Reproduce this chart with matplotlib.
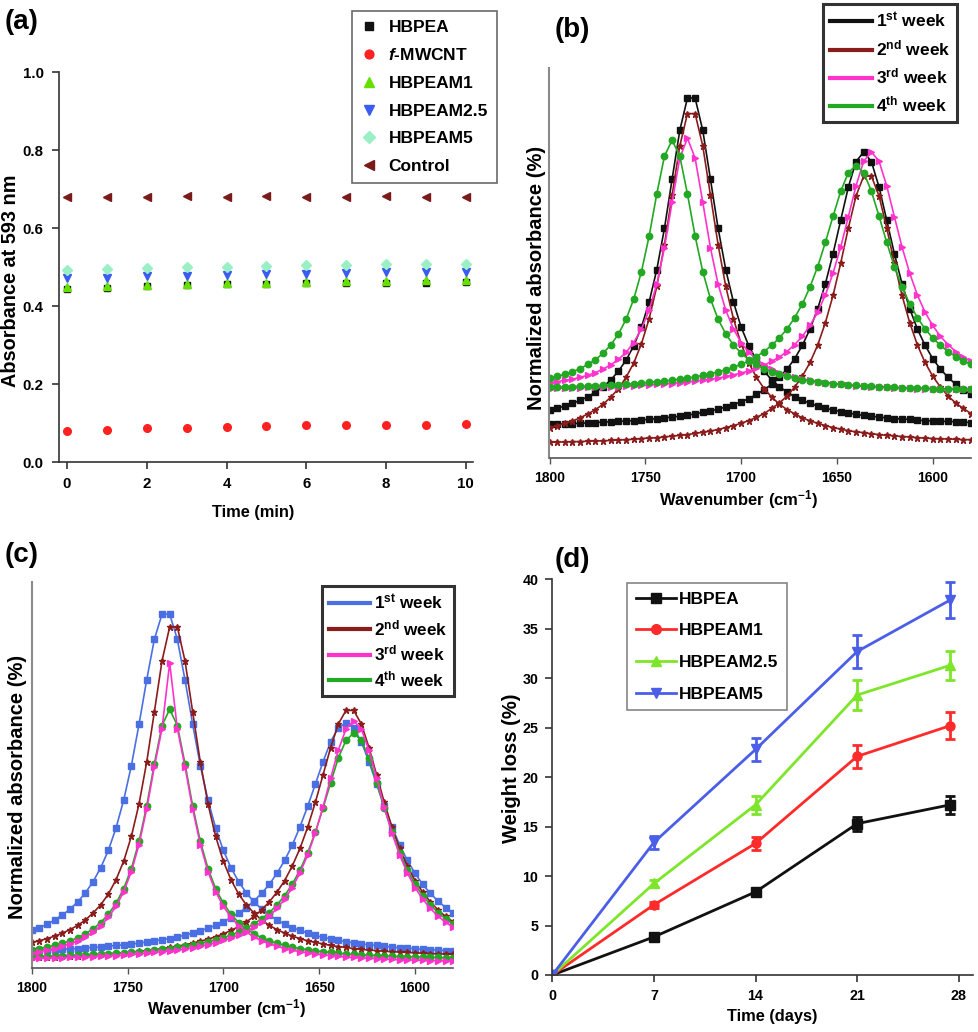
import matplotlib
matplotlib.use('Agg')
import matplotlib.pyplot as plt
import matplotlib.font_manager as fm
from matplotlib.lines import Line2D

# ---------------- data ----------------
# (a) absorbance at 593 nm vs time
time_min = [0, 1, 2, 3, 4, 5, 6, 7, 8, 9, 10]
abs_hbpea = [0.444, 0.447, 0.452, 0.453, 0.456, 0.457, 0.458, 0.459, 0.459, 0.460, 0.462]
abs_fmwcnt = [0.079, 0.081, 0.087, 0.088, 0.091, 0.092, 0.094, 0.096, 0.096, 0.096, 0.098]
abs_hbpeam1 = [0.450, 0.452, 0.455, 0.457, 0.459, 0.460, 0.462, 0.463, 0.464, 0.466, 0.467]
abs_hbpeam25 = [0.471, 0.473, 0.476, 0.477, 0.480, 0.481, 0.483, 0.484, 0.486, 0.487, 0.488]
abs_hbpeam5 = [0.492, 0.494, 0.498, 0.499, 0.501, 0.502, 0.504, 0.505, 0.507, 0.508, 0.508]
abs_control = [0.680, 0.680, 0.680, 0.681, 0.680, 0.681, 0.680, 0.680, 0.681, 0.680, 0.680]
legend_a = ['HBPEA', r'$\mathit{f}$-MWCNT', 'HBPEAM1', 'HBPEAM2.5', 'HBPEAM5', 'Control']

# (b), (c) normalized absorbance vs wavenumber
wavenumber = [1800, 1796, 1792, 1788, 1784, 1780, 1776, 1772, 1768, 1764, 1760, 1756, 1752, 1748,
              1744, 1740, 1736, 1732, 1728, 1724, 1720, 1716, 1712, 1708, 1704, 1700, 1696, 1692,
              1688, 1684, 1680, 1676, 1672, 1668, 1664, 1660, 1656, 1652, 1648, 1644, 1640, 1636,
              1632, 1628, 1624, 1620, 1616, 1612, 1608, 1604, 1600, 1596, 1592, 1588, 1584, 1580]
week_labels = [r'1$^{\mathrm{st}}$ week', r'2$^{\mathrm{nd}}$ week', r'3$^{\mathrm{rd}}$ week',
               r'4$^{\mathrm{th}}$ week']

b_w1_p1 = [12.3, 12.8, 13.3, 14.0, 14.8, 15.7, 16.9, 18.3, 20.0, 22.3, 25.1, 28.8, 33.6, 40.0, 48.3,
           58.9, 71.5, 84.0, 92.3, 92.3, 84.0, 71.5, 58.9, 48.3, 40.0, 33.6, 28.8, 25.1, 22.3, 20.0,
           18.3, 16.9, 15.7, 14.8, 14.0, 13.3, 12.8, 12.3, 11.9, 11.5, 11.2, 10.9, 10.7, 10.5, 10.3,
           10.1, 10.0, 9.9, 9.7, 9.6, 9.5, 9.4, 9.4, 9.3, 9.2, 9.1]
b_w1_p2 = [8.6, 8.7, 8.8, 8.8, 8.9, 9.0, 9.1, 9.2, 9.3, 9.4, 9.5, 9.6, 9.8, 9.9, 10.1, 10.3, 10.5,
           10.7, 11.0, 11.3, 11.7, 12.1, 12.5, 13.1, 13.7, 14.4, 15.2, 16.3, 17.5, 18.9, 20.7, 22.8,
           25.5, 28.9, 33.1, 38.3, 44.7, 52.4, 61.0, 69.5, 76.0, 78.5, 76.0, 69.5, 61.0, 52.4, 44.7,
           38.3, 33.1, 28.9, 25.5, 22.8, 20.7, 18.9, 17.5, 16.3]
b_w2_p1 = [7.8, 8.3, 8.9, 9.5, 10.3, 11.3, 12.4, 13.8, 15.6, 17.8, 20.7, 24.4, 29.3, 35.7, 44.0,
           54.7, 67.4, 80.0, 88.3, 88.3, 80.0, 67.4, 54.7, 44.0, 35.7, 29.3, 24.4, 20.7, 17.8, 15.6,
           13.8, 12.4, 11.3, 10.3, 9.5, 8.9, 8.3, 7.8, 7.4, 7.0, 6.7, 6.5, 6.2, 6.0, 5.8, 5.7, 5.5,
           5.4, 5.2, 5.1, 5.0, 4.9, 4.9, 4.8, 4.7, 4.7]
b_w2_p2 = [4.0, 4.1, 4.1, 4.2, 4.2, 4.3, 4.4, 4.4, 4.5, 4.6, 4.7, 4.8, 5.0, 5.1, 5.2, 5.4, 5.6,
           5.8, 6.0, 6.3, 6.6, 6.9, 7.3, 7.8, 8.3, 8.9, 9.6, 10.4, 11.4, 12.7, 14.1, 15.9, 18.2,
           21.0, 24.5, 29.0, 34.7, 41.7, 50.0, 59.0, 67.2, 72.3, 72.3, 67.2, 59.0, 50.0, 41.7, 34.7,
           29.0, 24.5, 21.0, 18.2, 15.9, 14.1, 12.7, 11.4]
b_w3_p1 = [19.3, 19.6, 19.9, 20.2, 20.7, 21.2, 21.9, 22.8, 23.9, 25.3, 27.1, 29.6, 33.1, 37.9, 44.6,
           53.9, 65.6, 76.9, 82.0, 76.9, 65.6, 53.9, 44.6, 37.9, 33.1, 29.6, 27.1, 25.3, 23.9, 22.8,
           21.9, 21.2, 20.7, 20.2, 19.9, 19.6, 19.3, 19.1, 18.9, 18.7, 18.5, 18.4, 18.3, 18.2, 18.1,
           18.0, 18.0, 17.9, 17.8, 17.8, 17.7, 17.7, 17.7, 17.6, 17.6, 17.6]
b_w3_p2 = [17.8, 17.9, 17.9, 18.0, 18.0, 18.1, 18.1, 18.2, 18.3, 18.3, 18.4, 18.5, 18.6, 18.7, 18.9,
           19.0, 19.1, 19.3, 19.5, 19.7, 19.9, 20.2, 20.5, 20.9, 21.3, 21.8, 22.3, 23.0, 23.8, 24.8,
           25.9, 27.3, 29.1, 31.2, 34.0, 37.4, 41.8, 47.4, 54.1, 61.9, 69.8, 76.1, 78.5, 76.1, 69.8,
           61.9, 54.1, 47.4, 41.8, 37.4, 34.0, 31.2, 29.1, 27.3, 25.9, 24.8]
b_w4_p1 = [20.5, 20.9, 21.5, 22.1, 22.9, 24.0, 25.2, 26.9, 29.0, 31.8, 35.6, 40.8, 47.8, 56.9, 67.7,
           77.4, 81.5, 77.4, 67.7, 56.9, 47.8, 40.8, 35.6, 31.8, 29.0, 26.9, 25.2, 24.0, 22.9, 22.1,
           21.5, 20.9, 20.5, 20.1, 19.8, 19.5, 19.3, 19.1, 18.9, 18.7, 18.6, 18.5, 18.4, 18.3, 18.2,
           18.1, 18.0, 18.0, 17.9, 17.9, 17.8, 17.8, 17.7, 17.7, 17.6, 17.6]
b_w4_p2 = [18.1, 18.2, 18.2, 18.3, 18.4, 18.4, 18.5, 18.6, 18.7, 18.8, 18.9, 19.1, 19.2, 19.4, 19.6,
           19.7, 20.0, 20.2, 20.5, 20.8, 21.2, 21.6, 22.1, 22.6, 23.3, 24.0, 24.9, 26.0, 27.3, 28.9,
           30.8, 33.1, 36.0, 39.5, 43.9, 49.1, 55.3, 62.0, 68.4, 73.2, 75.0, 73.2, 68.4, 62.0, 55.3,
           49.1, 43.9, 39.5, 36.0, 33.1, 30.8, 28.9, 27.3, 26.0, 24.9, 24.0]

c_w1_p1 = [9.8, 10.5, 11.4, 12.5, 13.8, 15.3, 17.2, 19.5, 22.4, 26.0, 30.5, 36.3, 43.5, 52.4, 63.1,
           74.6, 85.1, 91.6, 91.6, 85.1, 74.6, 63.1, 52.4, 43.5, 36.3, 30.5, 26.0, 22.4, 19.5, 17.2,
           15.3, 13.8, 12.5, 11.4, 10.5, 9.8, 9.1, 8.5, 8.0, 7.6, 7.2, 6.9, 6.6, 6.3, 6.1, 5.9, 5.7,
           5.5, 5.3, 5.2, 5.1, 4.9, 4.8, 4.7, 4.6, 4.6]
c_w1_p2 = [4.6, 4.7, 4.7, 4.8, 4.9, 5.0, 5.1, 5.3, 5.4, 5.5, 5.7, 5.9, 6.1, 6.3, 6.5, 6.8, 7.1, 7.4,
           7.7, 8.1, 8.6, 9.1, 9.7, 10.4, 11.1, 12.0, 13.1, 14.3, 15.7, 17.4, 19.4, 21.7, 24.6, 27.9,
           31.9, 36.6, 41.9, 47.6, 53.4, 58.6, 62.2, 63.5, 62.2, 58.6, 53.4, 47.6, 41.9, 36.6, 31.9,
           27.9, 24.6, 21.7, 19.4, 17.4, 15.7, 14.3]
c_w2_p1 = [6.7, 7.1, 7.7, 8.3, 9.1, 10.0, 11.1, 12.5, 14.3, 16.4, 19.2, 22.9, 27.7, 34.1, 42.5, 53.3,
           66.3, 79.5, 88.3, 88.3, 79.5, 66.3, 53.3, 42.5, 34.1, 27.7, 22.9, 19.2, 16.4, 14.3, 12.5,
           11.1, 10.0, 9.1, 8.3, 7.7, 7.1, 6.7, 6.3, 5.9, 5.6, 5.4, 5.1, 4.9, 4.7, 4.6, 4.4, 4.3, 4.2,
           4.1, 4.0, 3.9, 3.8, 3.7, 3.7, 3.6]
c_w2_p2 = [2.8, 2.9, 2.9, 3.0, 3.1, 3.2, 3.3, 3.4, 3.5, 3.6, 3.7, 3.9, 4.0, 4.2, 4.4, 4.6, 4.8, 5.1,
           5.4, 5.7, 6.1, 6.5, 7.0, 7.5, 8.2, 8.9, 9.8, 10.8, 12.0, 13.4, 15.1, 17.2, 19.7, 22.7,
           26.5, 31.0, 36.5, 42.9, 50.0, 57.1, 63.2, 66.7, 66.7, 63.2, 57.1, 50.0, 42.9, 36.5, 31.0,
           26.5, 22.7, 19.7, 17.2, 15.1, 13.4, 12.0]
c_w3_p1 = [4.0, 4.3, 4.7, 5.1, 5.7, 6.3, 7.1, 8.1, 9.4, 11.0, 13.2, 16.0, 19.8, 25.0, 32.0, 41.2,
           52.1, 62.0, 79.0, 62.0, 52.1, 41.2, 32.0, 25.0, 19.8, 16.0, 13.2, 11.0, 9.4, 8.1, 7.1,
           6.3, 5.7, 5.1, 4.7, 4.3, 4.0, 3.7, 3.5, 3.3, 3.1, 2.9, 2.8, 2.7, 2.6, 2.5, 2.4, 2.3, 2.2,
           2.2, 2.1, 2.1, 2.0, 2.0, 1.9, 1.9]
c_w3_p2 = [2.5, 2.6, 2.6, 2.7, 2.7, 2.8, 2.9, 2.9, 3.0, 3.1, 3.2, 3.3, 3.4, 3.6, 3.7, 3.9, 4.1, 4.3,
           4.5, 4.7, 5.0, 5.3, 5.7, 6.1, 6.6, 7.2, 7.8, 8.6, 9.5, 10.6, 11.9, 13.5, 15.5, 17.9, 20.9,
           24.7, 29.3, 35.0, 41.7, 49.2, 56.4, 61.9, 64.0, 61.9, 56.4, 49.2, 41.7, 35.0, 29.3, 24.7,
           20.9, 17.9, 15.5, 13.5, 11.9, 10.6]
c_w4_p1 = [4.8, 5.1, 5.5, 5.9, 6.5, 7.1, 7.9, 8.9, 10.2, 11.8, 14.0, 16.8, 20.6, 25.8, 32.8, 42.0,
           52.9, 62.8, 67.0, 62.8, 52.9, 42.0, 32.8, 25.8, 20.6, 16.8, 14.0, 11.8, 10.2, 8.9, 7.9,
           7.1, 6.5, 5.9, 5.5, 5.1, 4.8, 4.5, 4.3, 4.1, 3.9, 3.7, 3.6, 3.5, 3.4, 3.3, 3.2, 3.1, 3.0,
           3.0, 2.9, 2.9, 2.8, 2.8, 2.7, 2.7]
c_w4_p2 = [3.1, 3.1, 3.2, 3.2, 3.3, 3.4, 3.4, 3.5, 3.6, 3.7, 3.8, 3.9, 4.0, 4.2, 4.3, 4.5, 4.7, 4.9,
           5.1, 5.4, 5.7, 6.0, 6.4, 6.9, 7.4, 7.9, 8.6, 9.4, 10.4, 11.5, 12.8, 14.4, 16.4, 18.8, 21.8,
           25.4, 29.9, 35.2, 41.4, 48.0, 54.4, 59.0, 60.8, 59.0, 54.4, 48.0, 41.4, 35.2, 29.9, 25.4,
           21.8, 18.8, 16.4, 14.4, 12.8, 11.5]

# (d) weight loss vs time
days = [0, 7, 14, 21, 27.4]
wl_hbpea = [0, 3.85, 8.4, 15.3, 17.2]
wl_hbpea_err = [0, 0.2, 0.3, 0.7, 0.9]
wl_hbpeam1 = [0, 7.1, 13.3, 22.1, 25.2]
wl_hbpeam1_err = [0, 0.3, 0.7, 1.2, 1.35]
wl_hbpeam25 = [0, 9.25, 17.2, 28.3, 31.3]
wl_hbpeam25_err = [0, 0.4, 0.9, 1.5, 1.5]
wl_hbpeam5 = [0, 13.4, 22.8, 32.7, 37.9]
wl_hbpeam5_err = [0, 0.7, 1.2, 1.7, 1.8]
legend_d = ['HBPEA', 'HBPEAM1', 'HBPEAM2.5', 'HBPEAM5']

# ---------------- fonts ----------------
W, H = 979, 1032
names = {f.name for f in fm.fontManager.ttflist}
MAIN = 'Liberation Sans'
HAS_NARROW = 'Liberation Sans Narrow' in names
NARROW = 'Liberation Sans Narrow' if HAS_NARROW else MAIN
HS = 1.0 / 0.82 if HAS_NARROW else 1.0

plt.rcParams['font.family'] = [MAIN, 'DejaVu Sans']
plt.rcParams['font.weight'] = 'bold'
plt.rcParams['mathtext.fontset'] = 'custom'
plt.rcParams['mathtext.rm'] = MAIN + ':bold'
plt.rcParams['mathtext.bf'] = MAIN + ':bold'
plt.rcParams['mathtext.it'] = MAIN + ':italic:bold'
plt.rcParams['mathtext.sf'] = MAIN + ':bold'
plt.rcParams['mathtext.default'] = 'rm'

hfont = dict(family=[NARROW, 'DejaVu Sans'], weight='bold')
vfont = dict(family=[MAIN, 'DejaVu Sans'], weight='bold')

fig = plt.figure(figsize=(W / 100, H / 100), dpi=100)


def add_axes(l, r, t, b):
    return fig.add_axes([l / W, 1 - b / H, (r - l) / W, (b - t) / H])


def ftext(x, y, s, size, rot=0, font=None, **kw):
    f = font if font is not None else (vfont if rot else hfont)
    fig.text(x / W, 1 - y / H, s, fontsize=size, rotation=rot, ha='center', va='center', **f, **kw)


def style_ticklabels(ax, size):
    for lab in ax.get_xticklabels() + ax.get_yticklabels():
        lab.set_fontfamily([NARROW, 'DejaVu Sans'])
        lab.set_fontweight('bold')
        lab.set_fontsize(size)


# ---------------- (a) ----------------
axa = add_axes(59, 473, 72, 462)
sty_a = [
    (abs_hbpea, 's', '#111111', 5.0),
    (abs_fmwcnt, 'o', '#ff2020', 5.5),
    (abs_hbpeam1, '^', '#66e000', 6.0),
    (abs_hbpeam25, 'v', '#3b5cf0', 6.0),
    (abs_hbpeam5, 'D', '#9af0c4', 5.0),
    (abs_control, '<', '#7a1a1a', 6.0),
]
for (vals, mk, col, ms), lab in zip(sty_a, legend_a):
    axa.plot(time_min, vals, linestyle='none', marker=mk, color=col, ms=ms, mec=col, label=lab)
axa.set_xlim(-0.2, 10.18)
axa.set_ylim(0, 1.0)
axa.set_xticks([0, 2, 4, 6, 8, 10])
axa.set_yticks([0.0, 0.2, 0.4, 0.6, 0.8, 1.0])
for s in ['top', 'right']:
    axa.spines[s].set_visible(False)
for s in ['left', 'bottom']:
    axa.spines[s].set_color('#333333')
    axa.spines[s].set_linewidth(1.2)
axa.tick_params(direction='out', length=5, width=1.2, colors='#333333', labelcolor='black', pad=6)
style_ticklabels(axa, 10.8 * HS)
leg = axa.legend(loc='upper left', bbox_to_anchor=(352 / W, 1 - 11 / H), bbox_transform=fig.transFigure,
                 borderaxespad=0, frameon=True, fancybox=False, handlelength=1.0, handletextpad=0.6,
                 labelspacing=0.72, borderpad=0.5, markerscale=1.15,
                 prop=dict(family=[NARROW, 'DejaVu Sans'], weight='bold', size=12.5 * HS))
leg.get_frame().set_edgecolor('#444444')
leg.get_frame().set_linewidth(1.2)
ftext(253, 512, 'Time (min)', 11.8 * HS)
ftext(10.5, 281, 'Absorbance at 593 nm', 14.3, rot=90)
ftext(22, 22, '(a)', 20 * HS)


# ---------------- (b) & (c) ----------------
def spectra_panel(l, r, t, b, curves, colors, markers, legpos, order, lspace, lsize):
    ax = add_axes(l, r, t, b)
    for i in order:
        p1, p2 = curves[i]
        for vals in (p1, p2):
            ax.plot(wavenumber, vals, color=colors[i], lw=1.2, marker=markers[i], ms=4.6,
                    mec=colors[i], mfc=colors[i])
    ax.set_xlim(1800, 1580)
    ax.set_ylim(0, 100)
    ax.set_yticks([])
    ax.set_xticks([1800, 1750, 1700, 1650, 1600])
    for s in ['top', 'right']:
        ax.spines[s].set_visible(False)
    ax.spines['left'].set_color('#8a8a8a')
    ax.spines['left'].set_linewidth(1.5)
    ax.spines['bottom'].set_color('#555555')
    ax.spines['bottom'].set_linewidth(1.2)
    ax.tick_params(axis='x', direction='out', length=4, width=1.0, colors='#555555', labelcolor='black', pad=5)
    style_ticklabels(ax, 10 * HS)
    handles = [Line2D([], [], color=c, lw=3) for c in colors]
    lg = ax.legend(handles, week_labels, loc='upper left', bbox_to_anchor=(legpos[0] / W, 1 - legpos[1] / H),
                   bbox_transform=fig.transFigure, borderaxespad=0, frameon=True, fancybox=False,
                   handlelength=2.4, handletextpad=0.25, labelspacing=lspace, borderpad=0.4,
                   prop=dict(family=[NARROW, 'DejaVu Sans'], weight='bold', size=lsize * HS))
    lg.get_frame().set_edgecolor('black')
    lg.get_frame().set_linewidth(2.2)
    return ax


curves_b = [(b_w1_p1, b_w1_p2), (b_w2_p1, b_w2_p2), (b_w3_p1, b_w3_p2), (b_w4_p1, b_w4_p2)]
colors_b = ['#111111', '#8b1c1c', '#ff33cc', '#22a822']
markers = ['s', '*', '>', 'o']
spectra_panel(549.5, 971, 68, 458, curves_b, colors_b, markers, (823, 4), [0, 1, 2, 3], 0.47, 12.5)
ftext(739, 500, r'Wavenumber (cm$^{-1}$)', 12 * HS)
ftext(537, 278, 'Normalized absorbance (%)', 14.5, rot=90)
ftext(572, 30, '(b)', 20 * HS)

curves_c = [(c_w1_p1, c_w1_p2), (c_w2_p1, c_w2_p2), (c_w3_p1, c_w3_p2), (c_w4_p1, c_w4_p2)]
colors_c = ['#4a6fe3', '#8b1c1c', '#ff33cc', '#22a822']
spectra_panel(31.7, 453.3, 581.7, 968.3, curves_c, colors_c, markers, (322, 586), [0, 1, 3, 2], 0.33, 12.3)
ftext(227, 1009, r'Wavenumber (cm$^{-1}$)', 12 * HS)
ftext(18, 787, 'Normalized absorbance (%)', 14.5, rot=90)
ftext(22, 555, '(c)', 20 * HS)

# ---------------- (d) ----------------
axd = add_axes(552.3, 973.3, 579.3, 975)
sty_d = [
    (wl_hbpea, wl_hbpea_err, 's', '#111111'),
    (wl_hbpeam1, wl_hbpeam1_err, 'o', '#ff2a2a'),
    (wl_hbpeam25, wl_hbpeam25_err, '^', '#7ee62a'),
    (wl_hbpeam5, wl_hbpeam5_err, 'v', '#4a5ee8'),
]
handles_d = []
for vals, err, mk, col in sty_d:
    axd.errorbar(days, vals, yerr=err, color=col, lw=2.0, marker=mk, ms=6.5, mec=col,
                 elinewidth=2.0, capsize=3.5, capthick=2.0)
    handles_d.append(Line2D([], [], color=col, lw=2.0, marker=mk, ms=7, mec=col))
axd.set_xlim(0, 29)
axd.set_ylim(0, 40)
axd.set_xticks([0, 7, 14, 21, 28])
axd.set_yticks([0, 5, 10, 15, 20, 25, 30, 35, 40])
for s in ['top', 'right']:
    axd.spines[s].set_visible(False)
for s in ['left', 'bottom']:
    axd.spines[s].set_color('#333333')
    axd.spines[s].set_linewidth(1.2)
axd.tick_params(direction='out', length=5, width=1.2, colors='#333333', labelcolor='black', pad=5)
style_ticklabels(axd, 10.3 * HS)
lgd = axd.legend(handles_d, legend_d, loc='upper left', bbox_to_anchor=(627 / W, 1 - 583 / H),
                 bbox_transform=fig.transFigure, borderaxespad=0, frameon=True, fancybox=False,
                 handlelength=2.3, handletextpad=0.2, labelspacing=0.95, borderpad=0.5,
                 prop=dict(family=[NARROW, 'DejaVu Sans'], weight='bold', size=12.5 * HS))
lgd.get_frame().set_edgecolor('#666666')
lgd.get_frame().set_linewidth(1.2)
ftext(772, 1017, 'Time (days)', 11.8 * HS)
ftext(512, 768, 'Weight loss (%)', 14.5, rot=90)
ftext(572, 560, '(d)', 20 * HS)

fig.savefig('out.png', dpi=100)
